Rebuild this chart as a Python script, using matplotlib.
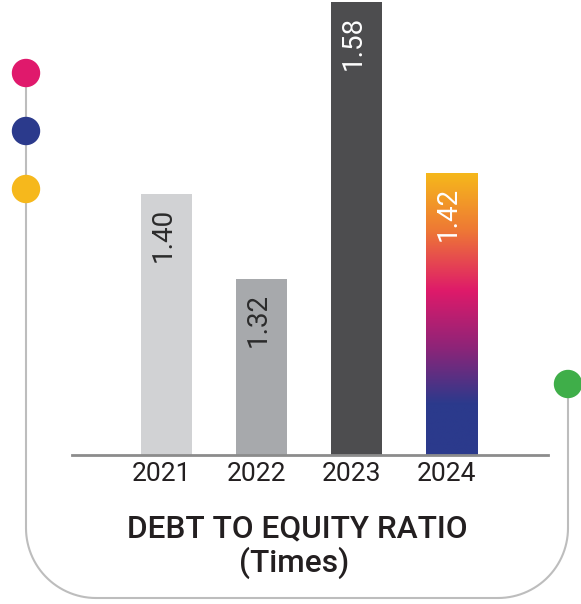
import numpy as np
import matplotlib
matplotlib.use("Agg")
import matplotlib.pyplot as plt
import matplotlib.transforms as mtransforms
from matplotlib.patches import Circle
from matplotlib.colors import LinearSegmentedColormap

plt.rcParams['font.family'] = ['Roboto', 'DejaVu Sans']

# data
years = ['2021', '2022', '2023', '2024']
ratio = [1.40, 1.32, 1.58, 1.42]
bar_colors = ['#d1d2d4', '#a7a9ac', '#4d4d4f', 'none']
label_colors = ['#2b2b2b', '#2b2b2b', '#ffffff', '#ffffff']
y_floor = 1.155
y_top = 1.582

W, H = 581, 604
fig = plt.figure(figsize=(W / 100, H / 100), dpi=100)

# decoration layer in pixel coords
deco = fig.add_axes([0, 0, 1, 1], zorder=0)
deco.set_xlim(0, W)
deco.set_ylim(H, 0)
deco.axis('off')

r = 70
xl, xr, yb = 26, 568, 598
t = np.linspace(np.pi, np.pi / 2, 30)
arc1_x = xl + r + r * np.cos(t)
arc1_y = yb - r + r * np.sin(t)
t2 = np.linspace(np.pi / 2, 0, 30)
arc2_x = xr - r + r * np.cos(t2)
arc2_y = yb - r + r * np.sin(t2)
px = np.concatenate([[xl], arc1_x, arc2_x, [xr]])
py = np.concatenate([[73], arc1_y, arc2_y, [384]])
deco.plot(px, py, color='#bdbdbd', lw=1.5, solid_capstyle='butt')

for (cx, cy), c in zip([(26, 73), (26, 131), (26, 189), (568, 384)],
                       ['#e0196c', '#2b3a8c', '#f6b81c', '#3fae49']):
    deco.add_patch(Circle((cx, cy), 13.5, color=c, zorder=3))

# bars
ax = fig.add_axes([72 / W, (H - 455) / H, 476 / W, 455 / H], zorder=1)
ax.patch.set_alpha(0)
x = np.arange(len(years))
heights = [v - y_floor for v in ratio]
bars = ax.bar(x, heights, width=0.537, bottom=y_floor, color=bar_colors)

# gradient for 2024
grad = LinearSegmentedColormap.from_list(
    'g', [(0.0, '#f6b91b'), (0.2, '#ee7a34'), (0.42, '#de1a6a'),
          (0.62, '#8e2478'), (0.82, '#2b3a8c'), (1.0, '#2b3a8c')])
b = bars[3]
img = ax.imshow(np.linspace(0, 1, 256).reshape(-1, 1), cmap=grad, aspect='auto',
                extent=[b.get_x(), b.get_x() + b.get_width(), y_floor, ratio[3]],
                origin='upper', zorder=2)
img.set_clip_path(b)
ax.set_xlim(-0.995, 4.016)
ax.set_ylim(y_floor, y_top)

for i, v in enumerate(ratio):
    ax.annotate(f'{v:.2f}', (x[i] - 0.03, v), xytext=(0, -10), textcoords='offset points',
                rotation=90, ha='center', va='top', fontsize=20,
                fontweight='normal', color=label_colors[i], zorder=3)

for s in ['top', 'right', 'left']:
    ax.spines[s].set_visible(False)
ax.spines['bottom'].set_color('#8c8c8c')
ax.spines['bottom'].set_linewidth(2)
ax.spines['bottom'].set_zorder(4)
ax.set_yticks([])
ax.set_xticks(x)
ax.set_xticklabels(years, fontsize=19, color='#231f20')
ax.tick_params(axis='x', length=0, pad=5)
shift = mtransforms.ScaledTranslation(-5 / 100, 0, fig.dpi_scale_trans)
for lab in ax.get_xticklabels():
    lab.set_transform(lab.get_transform() + shift)

fig.text(297 / W, 1 - 537 / H, 'DEBT TO EQUITY RATIO', ha='center', va='baseline',
         fontsize=22.8, fontweight='medium', color='#231f20')
fig.text(294 / W, 1 - 572 / H, '(Times)', ha='center', va='baseline',
         fontsize=22.8, fontweight='medium', color='#231f20')

fig.savefig('out.png', dpi=100)
